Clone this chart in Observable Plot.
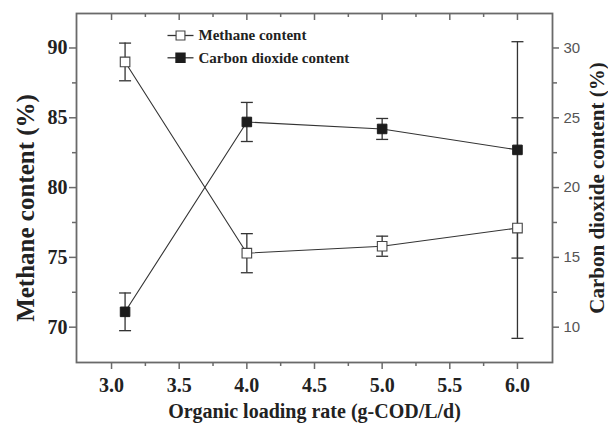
<!DOCTYPE html>
<html><head><meta charset="utf-8">
<script src="https://cdn.jsdelivr.net/npm/d3@7"></script>
<script src="https://cdn.jsdelivr.net/npm/@observablehq/plot@0.6"></script>
<style>body{margin:0;background:#fff}</style>
</head><body><div id="chart"></div>
<script>
const olr = [3.1, 4.0, 5.0, 6.0];
const methane = [89.0, 75.3, 75.8, 77.1];
const methaneErr = [1.35, 1.4, 0.72, 7.9];
const co2 = [11.1, 24.7, 24.2, 22.7];
const co2Err = [1.35, 1.4, 0.75, 7.75];
const xTicks = [3.0, 3.5, 4.0, 4.5, 5.0, 5.5, 6.0];
const xMinor = [3.25, 3.75, 4.25, 4.75, 5.25, 5.75];
const leftTicks = [70, 75, 80, 85, 90];
const leftMinor = [72.5, 77.5, 82.5, 87.5];
const rightTicks = [10, 15, 20, 25, 30];
const rightMinor = [12.5, 17.5, 22.5, 27.5];
const xDomain = [2.741, 6.259];
const leftDomain = [67.47, 92.47];
const rightDomain = [7.47, 32.47];
const seriesNames = ["Methane content", "Carbon dioxide content"];
const xLabel = "Organic loading rate (g-COD/L/d)";
const leftLabel = "Methane content (%)";
const rightLabel = "Carbon dioxide content (%)";

const toLeft = d3.scaleLinear(rightDomain, leftDomain);
const ch4 = olr.map((x, i) => ({x, v: methane[i], lo: methane[i] - methaneErr[i], hi: methane[i] + methaneErr[i]}));
const cd = olr.map((x, i) => ({x, v: toLeft(co2[i]), lo: toLeft(co2[i] - co2Err[i]), hi: toLeft(co2[i] + co2Err[i])}));

const hline = {draw(ctx, size) { const r = Math.sqrt(size / Math.PI); ctx.moveTo(-r, 0); ctx.lineTo(r, 0); }};
const serif = "Liberation Serif, Times New Roman, serif";
const axisGray = "#6a6a6a";
const ink = "#222";
const H = 424, MT = 13, MB = 62, ML = 76, MR = 56;
const frameH = H - MT - MB;

function errMarks(data) {
  return [
    Plot.ruleX(data, {x: "x", y1: "lo", y2: "hi", stroke: "#333", strokeWidth: 1.3}),
    Plot.dot(data, {x: "x", y: "lo", symbol: hline, r: 6, stroke: "#333", strokeWidth: 1.3}),
    Plot.dot(data, {x: "x", y: "hi", symbol: hline, r: 6, stroke: "#333", strokeWidth: 1.3})
  ];
}

const chart = Plot.plot({
  width: 608, height: H,
  marginTop: MT, marginBottom: MB, marginLeft: ML, marginRight: MR,
  style: {fontFamily: serif, fontWeight: "bold", fontSize: "20px", background: "#fff"},
  x: {domain: xDomain, axis: null, label: null},
  y: {domain: leftDomain, axis: null, label: null},
  marks: [
    // axes ticks
    Plot.axisX(xTicks, {anchor: "bottom", label: null, tickSize: 7, tickPadding: 8, tickFormat: d => d.toFixed(1), stroke: axisGray, fill: ink, strokeWidth: 1.5, fontSize: 20, fontWeight: "bold", fontFamily: serif}),
    Plot.axisX(xMinor, {anchor: "bottom", label: null, tickSize: 4, tickFormat: () => "", stroke: axisGray, strokeWidth: 1.5}),
    Plot.ruleX(xTicks, {x: d => d, insetBottom: frameH - 7, stroke: axisGray, strokeWidth: 1.5}),
    Plot.ruleX(xMinor, {x: d => d, insetBottom: frameH - 4, stroke: axisGray, strokeWidth: 1.5}),
    Plot.axisY(leftTicks, {anchor: "left", label: null, tickSize: 7, tickPadding: 2, stroke: axisGray, fill: ink, strokeWidth: 1.5, fontSize: 20, fontWeight: "bold", fontFamily: serif}),
    Plot.axisY(leftMinor, {anchor: "left", label: null, tickSize: 4, tickFormat: () => "", stroke: axisGray, strokeWidth: 1.5}),
    Plot.axisY(rightTicks.map(toLeft), {anchor: "right", label: null, tickSize: 6, tickPadding: 5, tickFormat: d => String(Math.round(toLeft.invert(d))), stroke: axisGray, fill: "#555", strokeWidth: 1.5, fontSize: 15, fontWeight: "normal", fontFamily: "Liberation Sans, Arial, sans-serif"}),
    Plot.axisY(rightMinor.map(toLeft), {anchor: "right", label: null, tickSize: 4, tickFormat: () => "", stroke: axisGray, strokeWidth: 1.5}),
    Plot.frame({stroke: axisGray, strokeWidth: 1.8}),
    // axis titles
    Plot.text([xLabel], {frameAnchor: "bottom", dy: 49, textAnchor: "middle", lineAnchor: "middle", fill: ink, fontSize: 20, fontWeight: "bold"}),
    Plot.text([leftLabel], {frameAnchor: "left", dx: -51, dy: 20, rotate: -90, textAnchor: "middle", lineAnchor: "middle", fill: ink, fontSize: 25, fontWeight: "bold"}),
    Plot.text([rightLabel], {frameAnchor: "right", dx: 45, rotate: -90, textAnchor: "middle", lineAnchor: "middle", fill: ink, fontSize: 21, fontWeight: "bold"}),
    // error bars
    ...errMarks(ch4),
    ...errMarks(cd),
    // lines
    Plot.line(ch4, {x: "x", y: "v", stroke: "#333", strokeWidth: 1.1}),
    Plot.line(cd, {x: "x", y: "v", stroke: "#333", strokeWidth: 1.1}),
    // markers
    Plot.dot(ch4, {x: "x", y: "v", symbol: "square", r: 5.4, fill: "#fff", stroke: "#444", strokeWidth: 1.1}),
    Plot.dot(cd, {x: "x", y: "v", symbol: "square", r: 5.4, fill: "#1c1c1c", stroke: "#1c1c1c", strokeWidth: 1}),
    // legend
    Plot.dot([0], {frameAnchor: "top-left", dx: 104, dy: 22, symbol: hline, r: 13, stroke: "#333", strokeWidth: 1.3}),
    Plot.dot([0], {frameAnchor: "top-left", dx: 104, dy: 22, symbol: "square", r: 5, fill: "#fff", stroke: "#444", strokeWidth: 1.1}),
    Plot.text([seriesNames[0]], {frameAnchor: "top-left", dx: 122, dy: 22, textAnchor: "start", lineAnchor: "middle", fill: ink, fontSize: 15, fontWeight: "bold"}),
    Plot.dot([0], {frameAnchor: "top-left", dx: 104, dy: 44.3, symbol: hline, r: 13, stroke: "#333", strokeWidth: 1.3}),
    Plot.dot([0], {frameAnchor: "top-left", dx: 104, dy: 44.3, symbol: "square", r: 5, fill: "#1c1c1c", stroke: "#1c1c1c"}),
    Plot.text([seriesNames[1]], {frameAnchor: "top-left", dx: 122, dy: 44.3, textAnchor: "start", lineAnchor: "middle", fill: ink, fontSize: 15, fontWeight: "bold"})
  ]
});
document.getElementById("chart").appendChild(chart);
</script>
</body></html>
